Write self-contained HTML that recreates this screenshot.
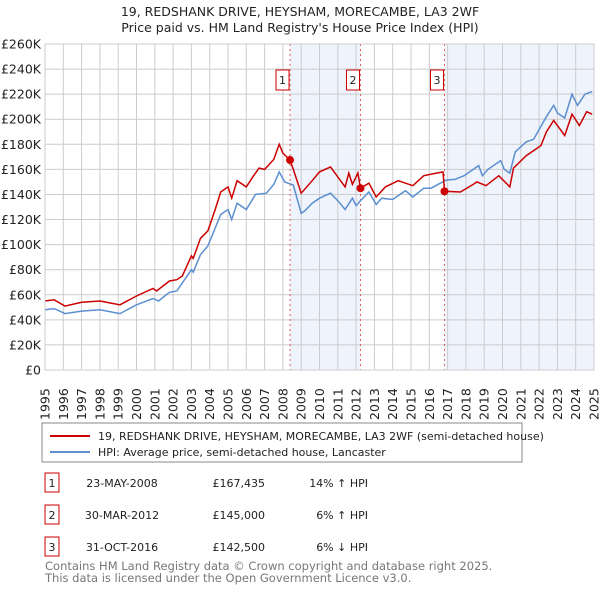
<!DOCTYPE html>
<html><head><meta charset="utf-8"><style>
body{margin:0;background:#fff;font-family:"Liberation Sans","DejaVu Sans",sans-serif;}
svg text{font-family:"DejaVu Sans","Liberation Sans",sans-serif;}
</style></head><body>
<svg id="c" width="600" height="590" xmlns="http://www.w3.org/2000/svg">
<text x="300" y="16" text-anchor="middle" font-size="12.5" fill="#222">19, REDSHANK DRIVE, HEYSHAM, MORECAMBE, LA3 2WF</text>
<text x="300" y="32" text-anchor="middle" font-size="12.5" fill="#222">Price paid vs. HM Land Registry's House Price Index (HPI)</text>
<g id="plot"></g>
<rect x="42" y="423" width="480" height="39" fill="#fff" stroke="#888"/>
<line x1="50" y1="436" x2="90" y2="436" stroke="#cc0000" stroke-width="2"/>
<text x="98" y="440" font-size="11" fill="#222">19, REDSHANK DRIVE, HEYSHAM, MORECAMBE, LA3 2WF (semi-detached house)</text>
<line x1="50" y1="452" x2="90" y2="452" stroke="#5b8fd0" stroke-width="2"/>
<text x="98" y="456" font-size="11" fill="#222">HPI: Average price, semi-detached house, Lancaster</text>
<g font-size="11" fill="#222">
<rect x="45" y="473" width="14" height="19" fill="#fff" stroke="#cc0000"/><text x="52" y="487" text-anchor="middle">1</text>
<text x="122" y="487" text-anchor="middle">23-MAY-2008</text><text x="265" y="487" text-anchor="end">£167,435</text><text x="368" y="487" text-anchor="end">14% ↑ HPI</text>
<rect x="45" y="505" width="14" height="19" fill="#fff" stroke="#cc0000"/><text x="52" y="519" text-anchor="middle">2</text>
<text x="122" y="519" text-anchor="middle">30-MAR-2012</text><text x="265" y="519" text-anchor="end">£145,000</text><text x="368" y="519" text-anchor="end">6% ↑ HPI</text>
<rect x="45" y="537" width="14" height="19" fill="#fff" stroke="#cc0000"/><text x="52" y="551" text-anchor="middle">3</text>
<text x="122" y="551" text-anchor="middle">31-OCT-2016</text><text x="265" y="551" text-anchor="end">£142,500</text><text x="368" y="551" text-anchor="end">6% ↓ HPI</text>
</g>
<text x="45" y="570" font-size="11.5" fill="#777">Contains HM Land Registry data © Crown copyright and database right 2025.</text>
<text x="45" y="582" font-size="11.5" fill="#777">This data is licensed under the Open Government Licence v3.0.</text>
</svg>
<script>
const hpiYears=[1995,1995.5,1996.1,1997,1998,1999.1,2000,2000.9,2001.2,2001.8,2002.2,2003.0,2003.1,2003.5,2003.9,2004.6,2005.0,2005.2,2005.5,2006.0,2006.5,2007.1,2007.5,2007.8,2008.1,2008.57,2009.0,2009.2,2009.6,2010.0,2010.6,2011.0,2011.4,2011.8,2012.0,2012.3,2012.7,2013.1,2013.4,2014.0,2014.7,2015.1,2015.7,2016.1,2016.6,2016.95,2017.4,2017.9,2018.2,2018.7,2018.9,2019.2,2019.9,2020.1,2020.4,2020.7,2021.3,2021.7,2022.4,2022.8,2023.0,2023.4,2023.8,2024.1,2024.5,2024.9];
const hpiValues=[48,49,45,47,48,45,52,57,55,62,63,80,78,92,99,124,128,120,133,128,140,141,148,158,150,147.5,125,127,133,137,141,135,128,137,131,136,142,132,137,136,143,138,145,145,149,151.5,152,155,158,163,155,160,167,160,157,174,182,184,202,211,205,201,220,211,220,222];
const propYears=[1995,1995.5,1996.1,1997,1998,1999.1,2000,2000.9,2001.1,2001.8,2002.2,2002.5,2003.0,2003.1,2003.5,2003.9,2004.3,2004.6,2005.0,2005.2,2005.5,2006.0,2006.4,2006.7,2007.0,2007.5,2007.8,2008.0,2008.39,2008.57,2009.0,2009.6,2010.0,2010.6,2011.0,2011.4,2011.6,2011.8,2012.1,2012.24,2012.7,2013.1,2013.6,2014.3,2015.1,2015.7,2016.4,2016.75,2016.83,2017.7,2018.4,2018.6,2019.1,2019.8,2020.4,2020.6,2021.3,2022.1,2022.4,2022.8,2023.4,2023.8,2024.2,2024.6,2024.9];
const propValues=[55,56,51,54,55,52,59,65,63,71,72,75,91,89,105,111,128,142,146,137,151,146,155,161,160,168,180,173,167.4,160,141,151,158,162,154,146,157,148,157,145,149,138,146,151,147,155,157,158,142.5,142,148,150,147,155,146,161,171,179,190,199,187,204,195,206,204];
const saleYears=[2008.39,2012.24,2016.83];
const saleValues=[167.435,145,142.5];
const saleLabels=["1","2","3"];
const yTicks=[0,20,40,60,80,100,120,140,160,180,200,220,240,260];
const xTicks=[1995,1996,1997,1998,1999,2000,2001,2002,2003,2004,2005,2006,2007,2008,2009,2010,2011,2012,2013,2014,2015,2016,2017,2018,2019,2020,2021,2022,2023,2024,2025];

const NS="http://www.w3.org/2000/svg";
const X0=45,X1=594,Y0=370,Y1=44;
const xs=y=>X0+(y-1995)/30*(X1-X0);
const ys=v=>Y0-v/260*(Y0-Y1);
const g=document.getElementById('plot');
function mk(t,a){const e=document.createElementNS(NS,t);for(const k in a)e.setAttribute(k,a[k]);g.appendChild(e);return e;}
const bg=mk('rect',{x:X0,y:Y1,width:X1-X0,height:Y0-Y1,fill:'#fff'});


const sh1=mk('rect',{x:xs(saleYears[0]),y:Y1,width:xs(saleYears[1])-xs(saleYears[0]),height:Y0-Y1,fill:'#eef3fc'});


const sh2=mk('rect',{x:xs(saleYears[2]),y:Y1,width:X1-xs(saleYears[2]),height:Y0-Y1,fill:'#eef3fc'});


yTicks.forEach(v=>{
 const l=mk('line',{x1:X0,x2:X1,y1:ys(v),y2:ys(v),stroke:'#ccc','stroke-width':1});
 
 
 const t=mk('text',{x:X0-4,y:ys(v)+4.5,'text-anchor':'end','font-size':12.5,fill:'#222'});
 t.textContent=v===0?'£0':'£'+v+'K';
 
 
});
xTicks.forEach(yr=>{
 const l=mk('line',{x1:xs(yr),x2:xs(yr),y1:Y1,y2:Y0,stroke:'#ccc','stroke-width':1});
 
 
 const t=mk('text',{transform:`translate(${xs(yr)+4.5},${Y0+50}) rotate(-90)`,'font-size':12.5,fill:'#222'});
 t.textContent=yr;
 
 
});
saleYears.forEach((yr,i)=>{
 const l=mk('line',{x1:xs(yr),x2:xs(yr),y1:Y1,y2:Y0,stroke:'#e06060','stroke-width':1,'stroke-dasharray':'2,3'});
 
 
 const r=mk('rect',{x:xs(yr)-14,y:70,width:13,height:20,fill:'#fff',stroke:'#cc0000'});
 
 
 const t=mk('text',{x:xs(yr)-7.5,y:84,'text-anchor':'middle','font-size':11,fill:'#222'});
 t.textContent=saleLabels[i];
 
 
});
function path(xa,va){return xa.map((x,i)=>(i?'L':'M')+xs(x).toFixed(1)+','+ys(va[i]).toFixed(1)).join('');}
const hp=mk('path',{d:path(hpiYears,hpiValues),fill:'none',stroke:'#5b8fd0','stroke-width':1.5});


const pp=mk('path',{d:path(propYears,propValues),fill:'none',stroke:'#cc0000','stroke-width':1.5});


saleYears.forEach((yr,i)=>{
 const c=mk('circle',{cx:xs(yr),cy:ys(saleValues[i]),r:4,fill:'#cc0000'});
 
 
});
const bd=mk('rect',{x:X0,y:Y1,width:X1-X0,height:Y0-Y1,fill:'none',stroke:'#ccc'});


</script>
</body></html>
